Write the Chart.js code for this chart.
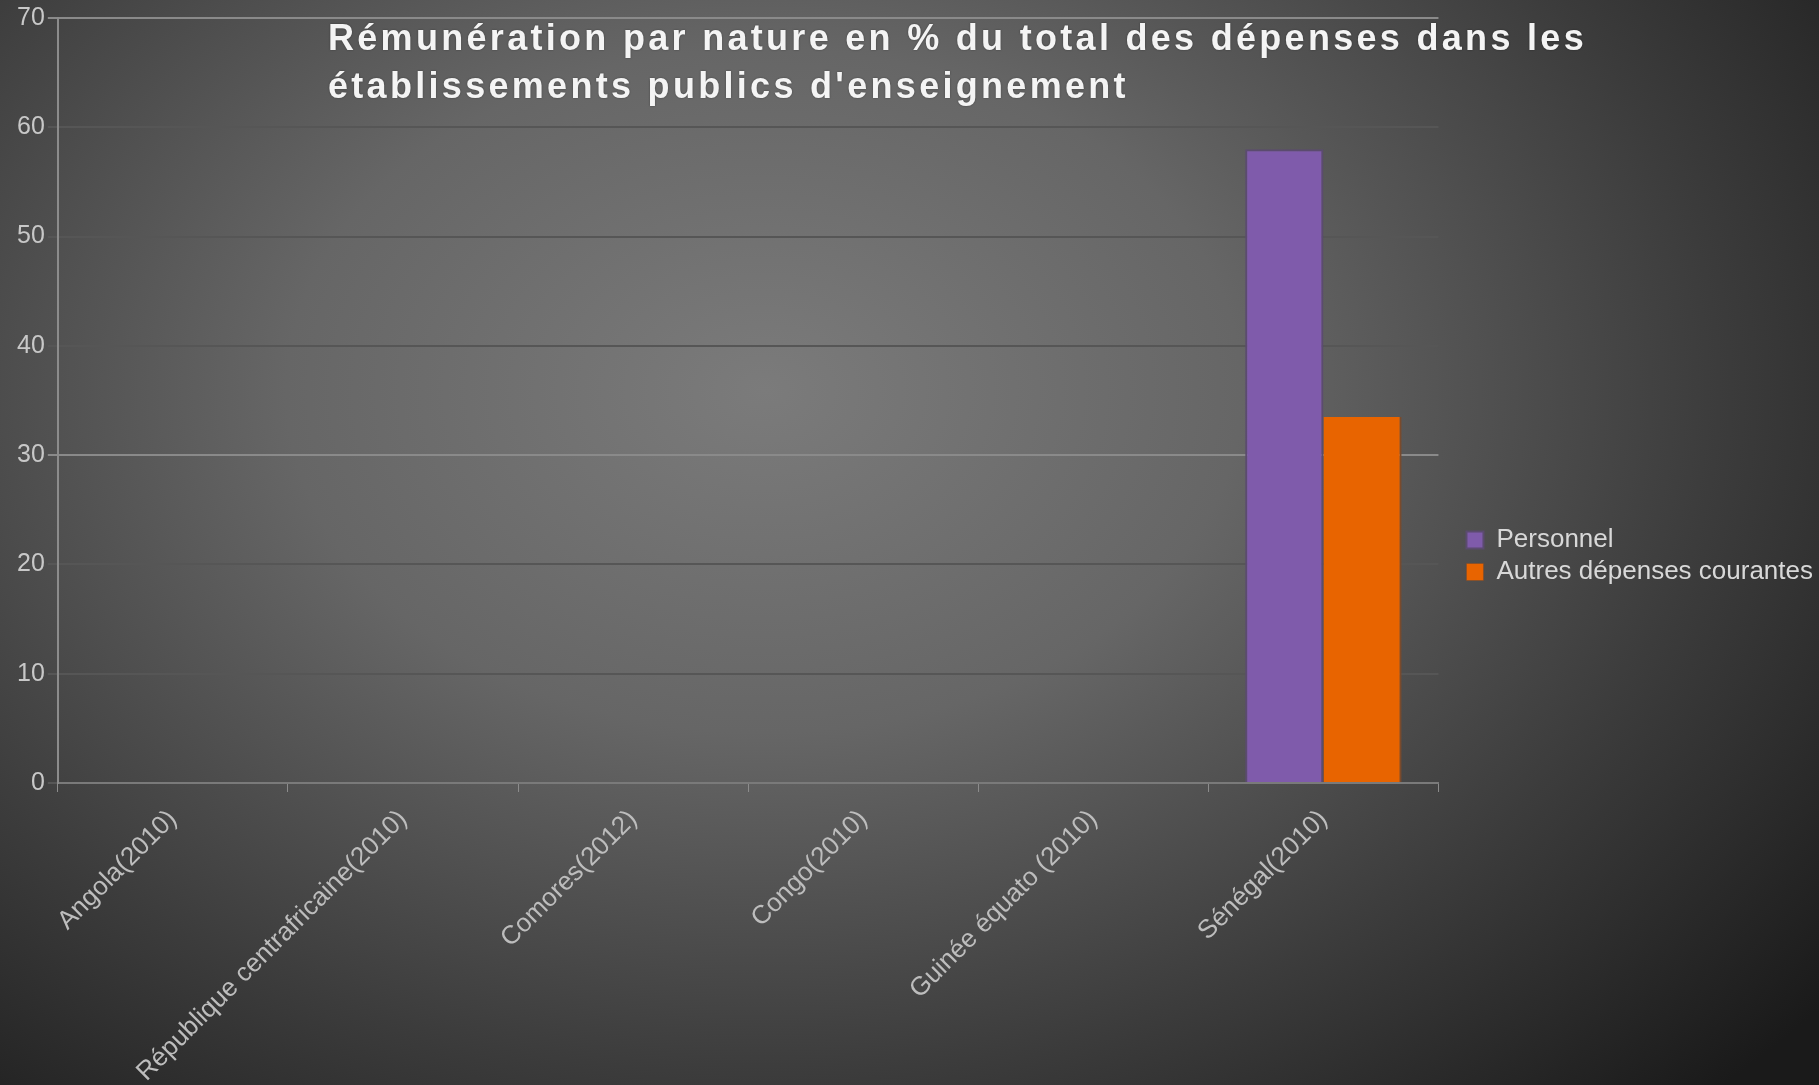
<!DOCTYPE html>
<html>
<head>
<meta charset="utf-8">
<script src="https://cdn.jsdelivr.net/npm/chart.js@4"></script>
<style>
    html, body {
        margin: 0;
        padding: 0;
        width: 1819px;
        height: 1085px;
        overflow: hidden;
    }
    body {
        background: radial-gradient(ellipse 75% 90% at 42% 36%, #7b7b7b 0%, #666666 35%, #3c3c3c 70%, #1a1a1a 100%);
        font-family: "Liberation Sans", Arial, sans-serif;
    }
    #wrap {
        position: relative;
        width: 1819px;
        height: 1085px;
    }
    #title {
        position: absolute;
        left: 328px;
        top: 14px;
        color: #f4f4f4;
        font: bold 36px "Liberation Sans", Arial, sans-serif;
        line-height: 48px;
        letter-spacing: 3.3px;
        text-shadow: 0 0 2px rgba(0, 0, 0, 0.4);
        white-space: nowrap;
    }
</style>
</head>
<body>
<div id="wrap">
    <canvas id="barChart" width="1819" height="1085"></canvas>
    <div id="title">Rémunération par nature en % du total des dépenses dans les<br>établissements publics d'enseignement</div>
</div>
<script>
// data

var countries = [
    "Angola(2010)",
    "République centrafricaine(2010)",
    "Comores(2012)",
    "Congo(2010)",
    "Guinée équato (2010)",
    "Sénégal(2010)"
];

var personnel = [null, null, null, null, null, 58.0];

var autresDepenses = [null, null, null, null, null, 33.5];

var yTicks = [0, 10, 20, 30, 40, 50, 60, 70];


// the legend sits a bit further from the plot and lower than Chart.js puts it:
// reserve room with layout padding, then slide the legend back into it

var legendNudge = {
    id: "legendNudge",
    afterLayout: function (chart) {
        var lg = chart.legend;
        if (!lg) return;
        lg.left += 22;
        lg.right += 22;
        lg.top += 5;
        lg.bottom += 5;
    }
};


// BAR CHART

var bar = document.getElementById("barChart");

if (bar) {

    new Chart(bar, {
        type: "bar",

        data: {
            labels: countries,
            datasets: [
                {
                    label: "Personnel",
                    data: personnel,
                    backgroundColor: "#7f5bab",
                    borderColor: "#5b4b6f",
                    borderWidth: 2,
                    borderSkipped: "bottom"
                },
                {
                    label: "Autres dépenses courantes",
                    data: autresDepenses,
                    backgroundColor: "#e86400",
                    borderColor: "#7a4a2c",
                    borderWidth: { top: 0, left: 0, right: 2, bottom: 0 },
                    borderSkipped: false
                }
            ]
        },

        plugins: [legendNudge],

        options: {
            responsive: false,
            animation: false,
            categoryPercentage: 0.68,
            barPercentage: 1.0,
            layout: {
                padding: { left: 14, top: 17, right: 18, bottom: 0 }
            },
            plugins: {
                title: { display: false },
                tooltip: { enabled: false },
                legend: {
                    position: "right",
                    labels: {
                        color: "#d8d8d8",
                        boxWidth: 17,
                        boxHeight: 17,
                        padding: 6,
                        font: { family: "'Liberation Sans', Arial, sans-serif", size: 26 }
                    }
                }
            },
            scales: {
                x: {
                    grid: {
                        display: true,
                        drawOnChartArea: false,
                        drawTicks: true,
                        tickLength: 9,
                        color: "#8c8c8c"
                    },
                    border: { color: "#7a7a7a", width: 2 },
                    ticks: {
                        color: "#bdbdbd",
                        minRotation: 45,
                        maxRotation: 45,
                        padding: 12,
                        font: { family: "'Liberation Sans', Arial, sans-serif", size: 26 }
                    },
                    afterFit: function (scale) {
                        scale.height = 302;
                    }
                },
                y: {
                    min: 0,
                    max: 70,
                    afterBuildTicks: function (scale) {
                        scale.ticks = yTicks.map(function (v) { return { value: v }; });
                    },
                    grid: {
                        color: function (ctx) {
                            var v = ctx.tick ? ctx.tick.value : 0;
                            return (v === 30 || v === 70) ? "#8a8a8a" : "#565656";
                        },
                        lineWidth: 2,
                        tickLength: 10
                    },
                    border: { color: "#8c8c8c", width: 2 },
                    ticks: {
                        color: "#c8c8c8",
                        padding: 3,
                        font: { family: "'Liberation Sans', Arial, sans-serif", size: 25 }
                    }
                }
            }
        }
    });

}
</script>
</body>
</html>
